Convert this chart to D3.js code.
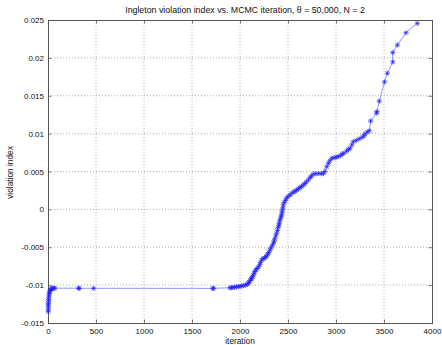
<!DOCTYPE html>
<html><head><meta charset="utf-8">
<script src="https://cdn.jsdelivr.net/npm/d3@7"></script>
<style>body{margin:0;background:#fff}text{font-family:"Liberation Sans",Arial,sans-serif}</style>
</head><body><svg id="c" width="442" height="345"></svg>
<script>
const iterations = [2,3,4,3,5,6,8,9,11,14,17,22,28,35,42,50,60,70,318,325,475,1715,1725,
1895,1910,1925,1945,1965,1985,2000,2020,2040,2060,2075,2086,2095,2105,2115,2122,2130,2138,2146,2155,2165,2178,2192,2205,2215,2226,2240,2255,2268,2278,2290,2300,2312,2322,2335,2347,2355,2362,2372,2382,2390,2397,2404,2409,2415,2422,2428,2434,2438,2442,2446,2451,2460,2472,2486,2500,2520,2539,2560,2575,2591,2610,2625,2640,2659,2675,2690,2711,2730,2745,2764,2790,2820,2850,2868,2885,2903,2920,2935,2955,2980,3000,3021,3045,3065,3080,3110,3130,3146,3165,3180,3210,3240,3271,3290,3302,3325,3347,3361,3422,3427,3451,3505,3535,3591,3591,3639,3729,3847];
const violation = [-0.0135,-0.0132,-0.0129,-0.0126,-0.0124,-0.0121,-0.0119,-0.0116,-0.0113,-0.0111,-0.0109,-0.0107,-0.0106,-0.0105,-0.01045,-0.0104,-0.01042,-0.0104,-0.01041,-0.01042,-0.01042,-0.01043,-0.01042,
-0.01035,-0.01033,-0.0103,-0.01027,-0.01023,-0.0102,-0.01015,-0.0101,-0.01005,-0.0100,-0.0099,-0.00976,-0.0096,-0.0094,-0.0092,-0.0091,-0.0089,-0.0087,-0.00844,-0.0082,-0.0080,-0.0078,-0.0076,-0.0073,-0.0070,-0.00668,-0.0065,-0.0064,-0.0063,-0.00615,-0.0059,-0.0057,-0.00536,-0.0051,-0.0048,-0.00448,-0.0042,-0.0039,-0.0035,-0.00316,-0.0028,-0.0024,-0.0021,-0.00184,-0.0015,-0.0012,-0.0009,-0.00074,-0.0004,-0.0001,0.0002,0.00058,0.0009,0.0012,0.00146,0.0017,0.0019,0.00212,0.0023,0.0024,0.00256,0.0027,0.0029,0.0030,0.0032,0.0034,0.0036,0.00388,0.0042,0.0044,0.00467,0.0047,0.00475,0.0047,0.00476,0.0050,0.00563,0.00608,0.0064,0.00674,0.0068,0.0069,0.00695,0.0071,0.0073,0.0074,0.0077,0.0079,0.00806,0.0085,0.00894,0.0091,0.0093,0.00951,0.0097,0.00995,0.0102,0.01039,0.01167,0.01272,0.0129,0.0143,0.01682,0.01798,0.01946,0.02071,0.0217,0.02332,0.02456];
const xTicks = [0,500,1000,1500,2000,2500,3000,3500,4000];
const yTicks = [-0.015,-0.01,-0.005,0,0.005,0.01,0.015,0.02,0.025];
const yTickLabels = ["-0.015","-0.01","-0.005","0","0.005","0.01","0.015","0.02","0.025"];
const titleText = "Ingleton violation index vs. MCMC iteration, \u03b8 = 50,000, N = 2";
const xLabel = "iteration", yLabel = "violation index";

const svg = d3.select("#c");
const L=48,R=432,T=20,B=323;
const x = d3.scaleLinear().domain([0,4000]).range([L,R]);
const y = d3.scaleLinear().domain([-0.015,0.025]).range([B,T]);
const fs = "8px", axisCol="#555";

// grid
const g = svg.append("g");
g.selectAll(".gx").data(xTicks.slice(1,-1)).join("line")
 .attr("x1",d=>x(d)).attr("x2",d=>x(d)).attr("y1",T).attr("y2",B)
 .attr("stroke","#999").attr("stroke-width",0.8).attr("stroke-dasharray","1,2");
g.selectAll(".gy").data(yTicks.slice(1,-1)).join("line")
 .attr("y1",d=>y(d)).attr("y2",d=>y(d)).attr("x1",L).attr("x2",R)
 .attr("stroke","#999").attr("stroke-width",0.8).attr("stroke-dasharray","1,2");

// axes with inward ticks
const fmtY = d=>yTickLabels[yTicks.indexOf(d)];
const ax = svg.append("g").attr("transform",`translate(0,${B})`)
 .call(d3.axisBottom(x).tickValues(xTicks).tickSize(-3.5).tickPadding(5).tickFormat(d3.format("d")));
const ay = svg.append("g").attr("transform",`translate(${L},0)`)
 .call(d3.axisLeft(y).tickValues(yTicks).tickSize(-3.5).tickPadding(6).tickFormat(fmtY));
const axt = svg.append("g").attr("transform",`translate(0,${T})`)
 .call(d3.axisTop(x).tickValues(xTicks).tickSize(-3.5).tickFormat(""));
const ayr = svg.append("g").attr("transform",`translate(${R},0)`)
 .call(d3.axisRight(y).tickValues(yTicks).tickSize(-3.5).tickFormat(""));
[ax,ay,axt,ayr].forEach(a=>{
  a.selectAll("path").attr("stroke",axisCol).attr("stroke-width",1);
  a.selectAll("line").attr("stroke",axisCol).attr("stroke-width",0.8);
  a.selectAll("text").attr("fill","#111").style("font-size",fs).style("font-family",'"Liberation Sans",Arial,sans-serif');
});
ay.selectAll("text").attr("dx","2px");

// line
const pts = iterations.map((d,i)=>[d,violation[i]]);
svg.append("path").datum(pts)
 .attr("d",d3.line().x(d=>x(d[0])).y(d=>y(d[1])))
 .attr("fill","none").attr("stroke","#7777ff").attr("stroke-width",0.8);

// asterisk markers
const s=2.6, s2=1.9;
const mk = svg.append("g").attr("stroke","#2222ff").attr("stroke-width",0.7).attr("fill","none");
mk.selectAll("path").data(pts).join("path")
 .attr("d",d=>{const cx=x(d[0]),cy=y(d[1]);
   return `M${cx-s},${cy}H${cx+s}M${cx},${cy-s}V${cy+s}M${cx-s2},${cy-s2}L${cx+s2},${cy+s2}M${cx-s2},${cy+s2}L${cx+s2},${cy-s2}`;});

// texts
svg.append("text").attr("x",245).attr("y",13).attr("text-anchor","middle").style("font-size","8.8px").attr("fill","#111").text(titleText);
svg.append("text").attr("x",(L+R)/2).attr("y",344).attr("text-anchor","middle").style("font-size","8.3px").attr("fill","#111").text(xLabel);
svg.append("text").attr("transform",`translate(12.5,${(T+B)/2+1}) rotate(-90)`).attr("text-anchor","middle").style("font-size","8.3px").attr("fill","#111").text(yLabel);
</script></body></html>
